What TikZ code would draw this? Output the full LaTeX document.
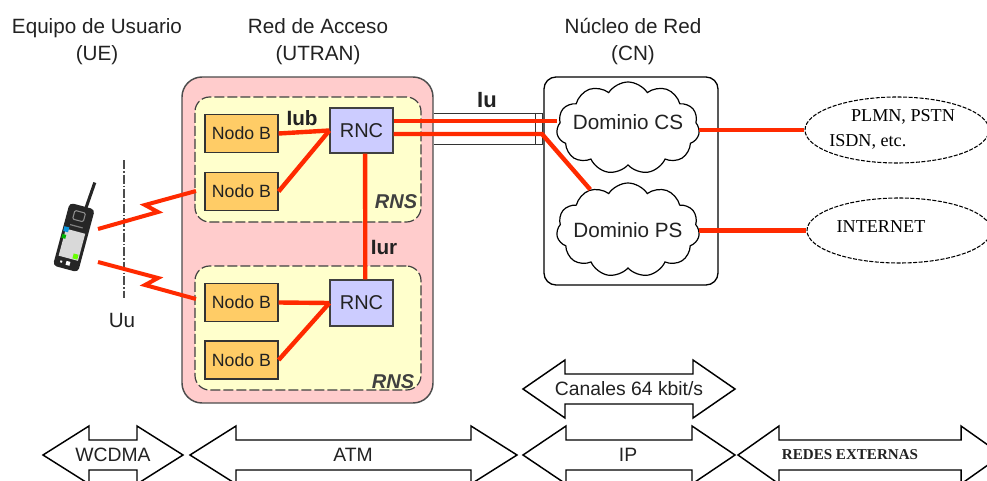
\documentclass[tikz,border=0pt]{standalone}
\usepackage{fontspec}
\setmainfont{Liberation Sans}
\newfontfamily\timesfont{Liberation Serif}
\usetikzlibrary{shapes.symbols,shapes.geometric}

\definecolor{utranpink}{HTML}{FFCCCC}
\definecolor{rnsyellow}{HTML}{FFFFCC}
\definecolor{nodeborange}{HTML}{FFCC66}
\definecolor{rnclilac}{HTML}{CCCCFF}
\definecolor{linkred}{HTML}{FF2A00}
\definecolor{ink}{HTML}{222222}

% band-shaped double arrow: x1, x2, y, head length, name, text x, text + font
\newcommand{\band}[7]{%
  \draw[band] (#1,#3) -- ({#1+#4},{#3-29}) -- ({#1+#4},{#3-15}) -- ({#2-#4},{#3-15})
    -- ({#2-#4},{#3-29}) -- (#2,#3) -- ({#2-#4},{#3+29}) -- ({#2-#4},{#3+15})
    -- ({#1+#4},{#3+15}) -- ({#1+#4},{#3+29}) -- cycle;
  \node[bandtext] (#5) at (#6,#3) {#7};}

\begin{document}
\begin{tikzpicture}[x=0.75pt,y=-0.75pt,
  title/.style={font=\fontsize{15.5}{20.25}\selectfont, text=ink, align=center, inner sep=0pt},
  utranbox/.style={draw=black!70, line width=1.1pt, fill=utranpink, rounded corners=15pt,
    minimum width=251*0.75pt, minimum height=326*0.75pt, inner sep=0pt},
  rnsbox/.style={draw=black!75, line width=0.9pt, dash pattern=on 10*0.75pt off 3*0.75pt,
    fill=rnsyellow, rounded corners=11pt, minimum width=226*0.75pt, minimum height=125*0.75pt, inner sep=0pt},
  cnbox/.style={draw=black, line width=1pt, rounded corners=9pt,
    minimum width=174*0.75pt, minimum height=208*0.75pt, inner sep=0pt},
  nodeb/.style={draw=black!80, line width=0.9pt, fill=nodeborange, text=ink,
    font=\fontsize{13.3}{15}\selectfont, minimum width=73*0.75pt, minimum height=38*0.75pt, inner sep=0pt},
  rnc/.style={draw=black!75, line width=0.9pt, fill=rnclilac, text=ink,
    font=\fontsize{15}{17}\selectfont, minimum width=63*0.75pt, minimum height=45*0.75pt, inner sep=0pt},
  link/.style={draw=linkred, line width=3.3pt},
  bolt/.style={draw=linkred, line width=3pt, line join=miter},
  tube/.style={draw=black!80, line width=0.7pt},
  iflabel/.style={font=\fontsize{15.5}{17}\selectfont\bfseries, text=ink, inner sep=0pt},
  rnslabel/.style={font=\fontsize{15}{17}\selectfont\bfseries\itshape, text=black!75, inner sep=0pt},
  cloudshape/.style={cloud, cloud puffs=11, cloud puff arc=115, aspect=1.55, draw=black, line width=0.9pt,
    fill=white, minimum width=143*0.75pt, minimum height=92*0.75pt, inner sep=0pt},
  cloudtext/.style={font=\fontsize{15.5}{17}\selectfont, text=ink, inner sep=0pt},
  extnet/.style={ellipse, draw=black, line width=0.8pt, dash pattern=on 4*0.75pt off 1.5*0.75pt,
    minimum width=184*0.75pt, minimum height=66*0.75pt, inner sep=0pt},
  exttext/.style={font=\timesfont\fontsize{13.6}{15}\selectfont, inner sep=0pt},
  band/.style={draw=black, line width=1.1pt, fill=white, line join=miter},
  bandtext/.style={font=\fontsize{14.5}{16}\selectfont, text=ink, inner sep=0pt},
  uuline/.style={draw=black!70, line width=1pt, dash pattern=on 9*0.75pt off 2*0.75pt on 1.5*0.75pt off 2*0.75pt}
]
\useasboundingbox (0,0) rectangle (987,481);

% column titles
\node[title] (tue)   at (97,41.5)  {Equipo de Usuario\\(UE)};
\node[title] (tutr)  at (318,41.5) {Red de Acceso\\(UTRAN)};
\node[title] (tcn)   at (633,41.5) {Núcleo de Red\\(CN)};

% access network with its two radio network subsystems
\node[utranbox] (utran) at (307.5,240) {};
\node[rnsbox] (rnsA) at (308,159.5) {};
\node[rnsbox, minimum height=124*0.75pt] (rnsB) at (308,328) {};

% core network frame
\node[cnbox] (cn) at (631,181) {};

% Iu bundle between UTRAN and CN
\coordinate (tubeTop) at (542,113);
\coordinate (tubeBot) at (542,144);
\coordinate (capTop) at (535,113);
\coordinate (capBot) at (535,144);
\draw[tube] (utran.east |- tubeTop) -- (tubeTop) -- (tubeBot) -- (utran.east |- tubeBot);
\draw[tube] (capTop) -- (capBot);

% Node B and RNC elements
\node[nodeb] (nb1) at (241.5,133.5) {Nodo B};
\node[nodeb] (nb2) at (241.5,191.5) {Nodo B};
\node[nodeb] (nb3) at (241.5,302.5) {Nodo B};
\node[nodeb] (nb4) at (241.5,360)   {Nodo B};
\node[rnc] (rnc1) at (361.5,130.5) {RNC};
\node[rnc, minimum height=46*0.75pt] (rnc2) at (361.5,303) {RNC};

% Iub / Iur links
\draw[link] (nb1.east) -- (rnc1.west);
\draw[link] (nb2.east) -- (rnc1.west);
\draw[link] (nb3.east) -- (rnc2.west);
\draw[link] (nb4.east) -- (rnc2.west);
\draw[link] (rnc1.-81) -- (rnc2.81);

\node[iflabel] (iub) at (302,118) {Iub};
\node[iflabel] (iur) at (384,247) {Iur};
\node[iflabel, font=\fontsize{16.5}{18}\selectfont\bfseries] (iu) at (487,100) {Iu};
\node[rnslabel] (rnsAl) at (396,202) {RNS};
\node[rnslabel] (rnsBl) at (393,382) {RNS};

% core network domains
\node[cloudshape] (cs) at (628,128) {};
\node[cloudshape, minimum height=94*0.75pt] (ps) at (628,230) {};
\node[cloudtext] (cst) at (628,122) {Dominio CS};
\node[cloudtext] (pst) at (628,230) {Dominio PS};

% Iu links into the domains
\coordinate (iuA) at (542,121);
\coordinate (iuB) at (542,134);
\draw[link] (rnc1.east |- iuA) -- (iuA) -- (cs.west |- iuA);
\draw[link] (rnc1.east |- iuB) -- (iuB) -- (ps.133);

% external networks
\node[extnet] (plmn) at (897,130) {};
\node[extnet, minimum height=65*0.75pt] (inet) at (899,230.5) {};
\node[exttext] (plmnt) at (903,117) {PLMN, PSTN};
\node[exttext, anchor=west] (isdnt) at (829,142) {ISDN, etc.};
\node[exttext] (inett) at (881,227) {INTERNET};
\draw[link] (cs.east |- plmn) -- (plmn.west);
\draw[link] (ps.east |- inet) -- (inet.west);

% Uu reference line
\coordinate (uuTop) at (124,160);
\coordinate (uuBot) at (124,298);
\draw[uuline] (uuTop) -- (uuBot);
\node[font=\fontsize{15.5}{17}\selectfont, text=ink, inner sep=0pt] (uu) at (122,320) {Uu};

% handset
\begin{scope}[shift={(74,237)}, rotate=-15]
  \draw[black!85, line width=2.3pt] (4,-31) -- (6,-58);
  \fill[black!85, rounded corners=3pt] (-13,-32) rectangle (13,33);
  \draw[black!45, line width=0.8pt, rounded corners=1pt] (-6,-26) rectangle (5,-17);
  \draw[black!50, line width=0.9pt] (-7,-11) -- (6,-11);
  \fill[black!15] (-10,-6) rectangle (10,22);
  \fill[cyan!80!blue] (-12,-8) rectangle (-7,-3);
  \fill[green!70!black] (-12,0) rectangle (-8,4);
  \fill[green!60!yellow] (4,16) rectangle (9,21);
  \fill[white] (-7,26) rectangle (-5,28);
  \fill[white] (-1,25) rectangle (3,29);
\end{scope}

% radio links
\coordinate (phoneA) at (98,229);
\coordinate (phoneB) at (98,262);
\coordinate (boltEndA) at (196,191);
\coordinate (boltEndB) at (196,299);
\draw[bolt] (phoneA) -- (158,212) -- (145,205) -- (boltEndA);
\draw[bolt] (phoneB) -- (158,278) -- (145,285) -- (boltEndB);

% protocol bands
\band{43}{183}{455}{46}{wcdma}{113}{WCDMA}
\band{190}{517}{455}{46}{atm}{353}{ATM}
\band{523}{735}{389}{42}{canales}{629}{Canales 64 kbit/s}
\band{523}{735}{455}{43}{ip}{628}{IP}
\band{738}{1002}{455}{41}{redes}{850}{\timesfont\bfseries\fontsize{11.3}{13}\selectfont REDES EXTERNAS}

\end{tikzpicture}
\end{document}
